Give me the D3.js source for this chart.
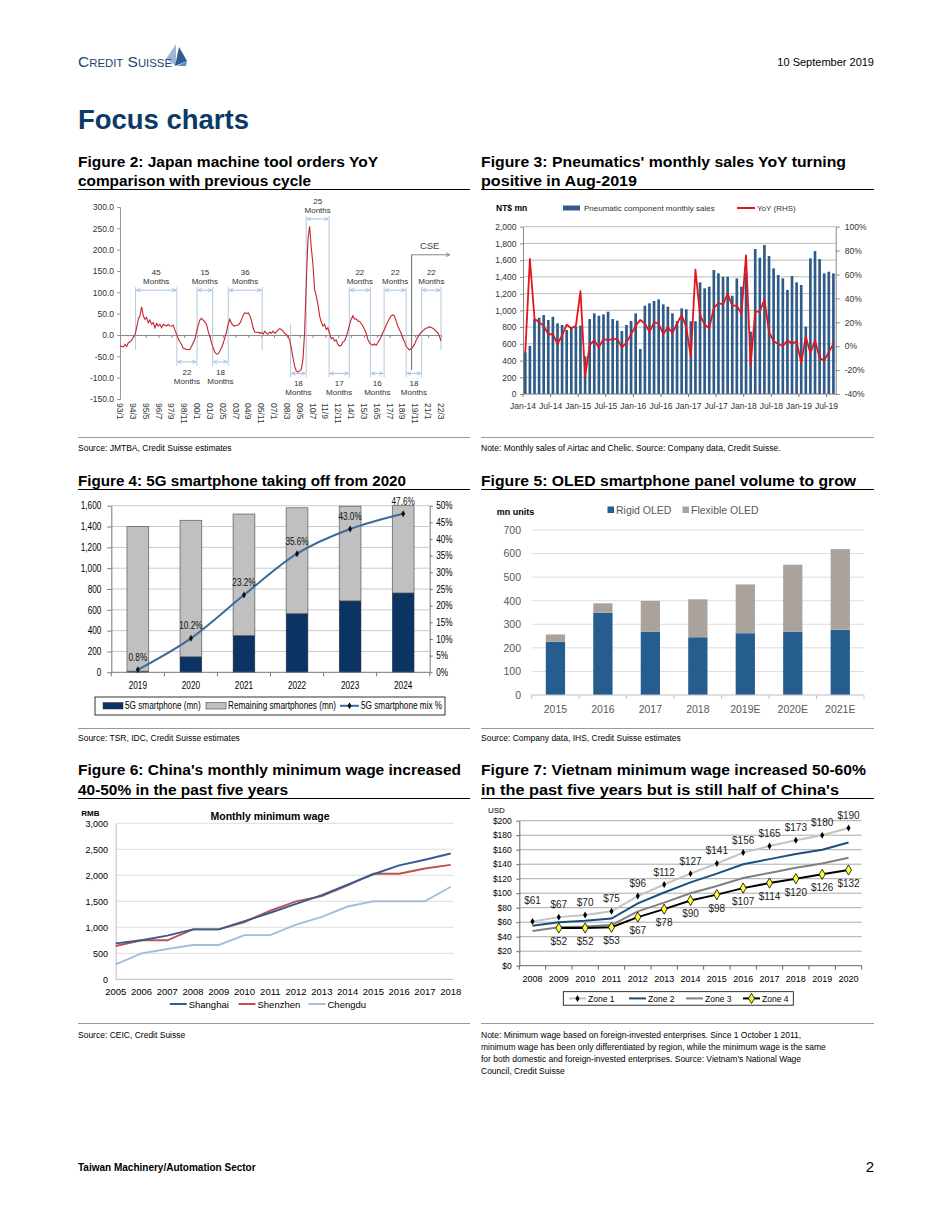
<!DOCTYPE html>
<html>
<head>
<meta charset="utf-8">
<script src="https://cdn.jsdelivr.net/npm/d3@7"></script>
<style>
  body { margin: 0; background: #fff; }
  svg { display: block; }
  text { font-family: "Liberation Sans", Arial, sans-serif; }
</style>
</head>
<body>
<svg id="page" width="950" height="1230"></svg>
<script>
// ---------------- data ----------------

// Figure 2: Japan machine tool orders YoY (%), sampled at even steps from 93/1 to 22/3
var f2Ticks = ["93/1","94/3","95/5","96/7","97/9","98/11","00/1","01/3","02/5","03/7","04/9","05/11",
  "07/1","08/3","09/5","10/7","11/9","12/11","14/1","15/3","16/5","17/7","18/9","19/11","21/1","22/3"];
var f2Orders = [
  -26, -27, -28, -22, -27, -18, -16, -12, -6, 0,
  17, 37, 45, 66, 45, 37, 41, 29, 35, 25,
  29, 17, 27, 21, 25, 17, 25, 23, 21, 25,
  21, 21, 23, 12, 2, -9, -16, -22, -31, -32,
  -34, -34, -34, -27, -18, -10, 6, 23, 35, 39,
  35, 31, 25, 9, -4, -18, -30, -40, -45, -44,
  -38, -30, -20, -7, 7, 25, 37, 27, 23, 21,
  23, 23, 27, 35, 46, 52, 50, 52, 46, 35,
  17, 7, 6, 7, 4, 6, 2, 9, 4, 2,
  7, 4, 9, 4, 7, 12, 15, 13, 9, 4,
  1, -2, -12, -30, -53, -73, -84, -87, -84, -80,
  -57, 6, 123, 224, 255, 205, 166, 107, 91, 72,
  45, 31, 21, 25, 13, 17, 4, -9, -6, -14,
  -12, -22, -26, -24, -16, -14, -4, 9, 23, 37,
  45, 37, 38, 33, 32, 27, 21, 13, 4, -10,
  -18, -22, -24, -21, -24, -18, -12, -4, 6, 13,
  23, 31, 38, 45, 47, 45, 33, 21, 13, 4,
  -7, -15, -26, -31, -35, -32, -29, -22, -13, -6,
  1, 6, 9, 13, 16, 17, 19, 18, 16, 13,
  9, 6, -2, -14
];
// cycles: [start month, end month (months after 93/1), length label, side]
var f2Cycles = [
  [17, 62, "45", "up"], [62, 84, "22", "down"], [84, 101, "15", "up"], [101, 118, "18", "down"],
  [118, 155, "36", "up"], [186, 203, "18", "down"], [203, 228, "25", "up"], [228, 250, "17", "down"],
  [250, 273, "22", "up"], [273, 288, "16", "down"], [288, 312, "22", "up"], [312, 329, "18", "down"],
  [329, 350, "22", "up"]
];
var f2Cse = 318;

// Figure 3: pneumatic component monthly sales (NT$ mn) and YoY (%), Jan-14 .. Aug-19
var f3Ticks = ["Jan-14","Jul-14","Jan-15","Jul-15","Jan-16","Jul-16","Jan-17","Jul-17","Jan-18","Jul-18","Jan-19","Jul-19"];
var f3Sales = [
  500, 575, 895, 912, 944, 885, 924, 845, 825, 765, 793, 805,
  817, 450, 896, 964, 936, 952, 984, 896, 877, 753, 825, 873,
  964, 538, 1056, 1084, 1112, 1131, 1072, 1044, 964, 873, 1024, 1012,
  870, 870, 1335, 1263, 1283, 1482, 1442, 1402, 1402, 1175, 1382, 1283,
  1450, 745, 1733, 1629, 1781, 1649, 1502, 1422, 1382, 1243, 1410, 1335,
  1303, 805, 1621, 1709, 1613, 1442, 1462, 1442
];
var f3Yoy = [
  -5, 73, 23, 20, 17, 10, 10, 2, 9, 18, 15, 17,
  46, -25, 1, 5, -1, 6, 5, 6, 6, -1, 3, 10,
  17, 22, 19, 12, 20, 19, 10, 16, 11, 19, 26, 16,
  -9, 64, 26, 18, 15, 32, 36, 35, 44, 34, 34, 27,
  76, -16, 29, 29, 39, 12, 4, 2, 0, 5, 2, 4,
  -14, 8, -6, 5, -10, -12, -5, 2
];

// Figure 4: 5G smartphones
var f4Years = ["2019", "2020", "2021", "2022", "2023", "2024"];
var f4FiveG = [11, 149, 353, 563, 686, 762];
var f4Remaining = [1389, 1311, 1167, 1017, 909, 838];
var f4Mix = [0.8, 10.2, 23.2, 35.6, 43.0, 47.6];

// Figure 5: OLED smartphone panels (mn units)
var f5Years = ["2015", "2016", "2017", "2018", "2019E", "2020E", "2021E"];
var f5Rigid = [226, 349, 269, 245, 262, 269, 277];
var f5Flexible = [31, 40, 130, 161, 207, 284, 342];

// Figure 6: China monthly minimum wage (RMB)
var f6Years = [2005, 2006, 2007, 2008, 2009, 2010, 2011, 2012, 2013, 2014, 2015, 2016, 2017, 2018];
var f6Shanghai = [690, 750, 840, 960, 960, 1120, 1280, 1450, 1620, 1820, 2020, 2190, 2300, 2420];
var f6Shenzhen = [640, 750, 750, 960, 960, 1100, 1320, 1500, 1600, 1808, 2030, 2030, 2130, 2200];
var f6Chengdu = [288, 500, 583, 660, 660, 850, 850, 1050, 1200, 1400, 1500, 1500, 1500, 1780];

// Figure 7: Vietnam minimum wage (USD)
var f7Years = ["2008","2009","2010","2011","2012","2013","2014","2015","2016","2017","2018","2019","2020"];
var f7Zone1 = [61, 67, 70, 75, 96, 112, 127, 141, 156, 165, 173, 180, 190];
var f7Zone2 = [55, 60, 62, 65, 86, 101, 115, 127, 140, 147, 154, 160, 170];
var f7Zone3 = [48, 53, 54, 56, 75, 87, 100, 110, 121, 128, 135, 141, 149];
var f7Zone4 = [null, 52, 52, 53, 67, 78, 90, 98, 107, 114, 120, 126, 132];

// ---------------- helpers ----------------
var svg = d3.select("#page");
var defs = svg.append("defs");

function write(parent, x, y, s, size, o) {
  o = o || {};
  var t = parent.append("text").attr("x", x).attr("y", y).attr("font-size", size)
    .attr("fill", o.fill || "#000").text(s);
  if (o.weight) t.attr("font-weight", o.weight);
  if (o.anchor) t.attr("text-anchor", o.anchor);
  if (o.family) t.attr("font-family", o.family);
  if (o.len) t.attr("textLength", o.len).attr("lengthAdjust", "spacingAndGlyphs");
  return t;
}

function styleAxis(g, size, family, color, lineColor) {
  g.attr("font-size", size).attr("font-family", family);
  g.selectAll("text").attr("fill", color);
  g.selectAll("line").attr("stroke", lineColor);
  g.select(".domain").attr("stroke", lineColor);
}

// squeeze text horizontally (stand-in for an Arial Narrow look)
function condense(sel, f) {
  sel.each(function () {
    var w = this.getComputedTextLength();
    d3.select(this).attr("textLength", w * f).attr("lengthAdjust", "spacingAndGlyphs");
  });
}

function arrowMarker(id, color) {
  defs.append("marker").attr("id", id).attr("viewBox", "0 0 10 10")
    .attr("refX", 9).attr("refY", 5).attr("markerWidth", 6).attr("markerHeight", 6)
    .attr("orient", "auto-start-reverse")
    .append("path").attr("d", "M1,1L9,5L1,9").attr("fill", "none")
    .attr("stroke", color).attr("stroke-width", 1.4);
}
arrowMarker("arrBlue", "#8fb0d6");
arrowMarker("arrGray", "#666");

var SANS = '"Liberation Sans", Arial, sans-serif';

// ---------------- page furniture ----------------
svg.append("polygon").attr("points", "166,59 176,44 176,66").attr("fill", "#9fb6d3");
svg.append("polygon").attr("points", "175,66 179,47 187,61").attr("fill", "#2d5b94");
svg.append("polygon").attr("points", "177,66 187,61 186,66").attr("fill", "#6a8dbb");
write(svg, 78, 67, "Credit Suisse", 15, { family: '"Liberation Serif", serif', fill: "#1d3f73", len: 94 })
  .style("font-variant", "small-caps");
write(svg, 874, 66, "10 September 2019", 11, { anchor: "end" });
write(svg, 78, 129, "Focus charts", 27, { weight: "bold", fill: "#0b3a68", len: 171 });

var titles = [
  [78, 167, "Figure 2: Japan machine tool orders YoY", 300],
  [78, 186, "comparison with previous cycle", 233],
  [481, 167, "Figure 3: Pneumatics' monthly sales YoY turning", 365],
  [481, 186, "positive in Aug-2019", 156],
  [78, 486, "Figure 4: 5G smartphone taking off from 2020", 328],
  [481, 486, "Figure 5: OLED smartphone panel volume to grow", 375],
  [78, 775, "Figure 6: China's monthly minimum wage increased", 383],
  [78, 795, "40-50% in the past five years", 210],
  [481, 775, "Figure 7: Vietnam minimum wage increased 50-60%", 385],
  [481, 795, "in the past five years but is still half of China's", 358]
];
titles.forEach(function (t) { write(svg, t[0], t[1], t[2], 14.5, { weight: "bold", len: t[3] }); });

[189.5, 489.5, 798.5].forEach(function (y) {
  svg.append("line").attr("x1", 78).attr("x2", 470).attr("y1", y).attr("y2", y).attr("stroke", "#000");
  svg.append("line").attr("x1", 481).attr("x2", 874).attr("y1", y).attr("y2", y).attr("stroke", "#000");
});
[437.5, 728.5, 1023.5].forEach(function (y) {
  svg.append("line").attr("x1", 78).attr("x2", 470).attr("y1", y).attr("y2", y).attr("stroke", "#7f7f7f").attr("stroke-width", 0.8);
  svg.append("line").attr("x1", 481).attr("x2", 874).attr("y1", y).attr("y2", y).attr("stroke", "#7f7f7f").attr("stroke-width", 0.8);
});
write(svg, 78, 451, "Source: JMTBA, Credit Suisse estimates", 8.5);
write(svg, 481, 451, "Note: Monthly sales of Airtac and Chelic. Source: Company data, Credit Suisse.", 8.5);
write(svg, 78, 741, "Source: TSR, IDC, Credit Suisse estimates", 8.5);
write(svg, 481, 741, "Source: Company data, IHS, Credit Suisse estimates", 8.5);
write(svg, 78, 1038, "Source: CEIC, Credit Suisse", 8.5);
["Note: Minimum wage based on foreign-invested enterprises. Since 1 October 1 2011,",
 "minimum wage has been only differentiated by region, while the minimum wage is the same",
 "for both domestic and foreign-invested enterprises. Source: Vietnam's National Wage",
 "Council, Credit Suisse"].forEach(function (s, i) { write(svg, 481, 1038 + i * 12, s, 8.5); });
write(svg, 78, 1171, "Taiwan Machinery/Automation Sector", 10, { weight: "bold" });
write(svg, 874, 1172, "2", 15, { anchor: "end" });

// ---------------- Figure 2 ----------------
(function () {
  var g = svg.append("g");
  var n = f2Orders.length;
  var monthOf = function (i) { return i * 350 / (n - 1); };
  var x = d3.scaleLinear().domain([0, 350]).range([120, 441]);
  var y = d3.scaleLinear().domain([-150, 300]).range([399, 207]);

  var ya = g.append("g").attr("transform", "translate(120,0)")
    .call(d3.axisLeft(y).tickValues(d3.range(-150, 301, 50)).tickFormat(function (d) { return d.toFixed(1); })
      .tickSize(3).tickPadding(3));
  styleAxis(ya, 8.5, SANS, "#333", "#9a9a9a");

  var tickMonths = f2Ticks.map(function (d, i) { return i * 14; });
  var xa = g.append("g").attr("transform", "translate(0," + y(0) + ")")
    .call(d3.axisBottom(x).tickValues(tickMonths).tickFormat("").tickSize(3).tickSizeOuter(0));
  styleAxis(xa, 8, SANS, "#333", "#8a8a8a");
  g.selectAll(".f2lab").data(f2Ticks).enter().append("text")
    .attr("transform", function (d, i) { return "translate(" + x(tickMonths[i]) + ",403) rotate(90)"; })
    .attr("dy", "0.35em").attr("font-size", 8.5).attr("fill", "#333").text(function (d) { return d; });

  // cycle brackets
  function level(c) {
    if (c[3] === "up") {
      var peak = d3.max(f2Orders.filter(function (d, i) { return monthOf(i) >= c[0] && monthOf(i) <= c[1]; }));
      return peak > 150 ? 272 : 105;
    }
    return c[0] < 150 ? -63 : -90;
  }
  var bounds = Array.from(new Set(f2Cycles.flatMap(function (c) { return [c[0], c[1]]; })));
  bounds.forEach(function (b) {
    var adj = f2Cycles.filter(function (c) { return c[0] === b || c[1] === b; });
    var ups = adj.filter(function (c) { return c[3] === "up"; });
    var downs = adj.filter(function (c) { return c[3] === "down"; });
    var top = ups.length ? d3.min(ups, function (c) { return y(level(c)); }) - 3 : y(25);
    var bot = downs.length ? d3.max(downs, function (c) { return y(level(c)); }) + 4 : y(-35);
    g.append("line").attr("x1", x(b)).attr("x2", x(b)).attr("y1", top).attr("y2", bot)
      .attr("stroke", "#a9c2df").attr("stroke-width", 0.9);
  });
  f2Cycles.forEach(function (c) {
    var ya2 = y(level(c));
    g.append("line").attr("x1", x(c[0]) + 1).attr("x2", x(c[1]) - 1).attr("y1", ya2).attr("y2", ya2)
      .attr("stroke", "#8fb0d6").attr("stroke-width", 0.8)
      .attr("marker-start", "url(#arrBlue)").attr("marker-end", "url(#arrBlue)");
    var mid = (x(c[0]) + x(c[1])) / 2;
    var up = c[3] === "up";
    write(g, mid, ya2 + (up ? -15 : 13), c[2], 8, { anchor: "middle", fill: "#333" });
    write(g, mid, ya2 + (up ? -6 : 22), "Months", 8, { anchor: "middle", fill: "#333" });
  });

  // CSE marker
  g.append("line").attr("x1", x(f2Cse)).attr("x2", x(f2Cse)).attr("y1", y(188)).attr("y2", y(-82))
    .attr("stroke", "#555").attr("stroke-width", 0.9);
  g.append("line").attr("x1", x(f2Cse)).attr("x2", x(f2Cse) + 38).attr("y1", y(188)).attr("y2", y(188))
    .attr("stroke", "#666").attr("stroke-width", 0.8).attr("marker-end", "url(#arrGray)");
  write(g, x(f2Cse) + 18, y(188) - 6, "CSE", 9.5, { anchor: "middle", fill: "#444" });

  g.append("path").datum(f2Orders)
    .attr("d", d3.line().x(function (d, i) { return x(monthOf(i)); }).y(function (d) { return y(d); }))
    .attr("fill", "none").attr("stroke", "#c3262c").attr("stroke-width", 1.1);
})();

// ---------------- Figure 3 ----------------
(function () {
  var g = svg.append("g");
  var x = d3.scaleBand().domain(d3.range(f3Sales.length)).range([523, 835.7]).paddingInner(0.42).paddingOuter(0.21);
  var y = d3.scaleLinear().domain([0, 2000]).range([394, 226.7]);
  var yr = d3.scaleLinear().domain([-40, 100]).range([394, 226.7]);
  var edge = function (i) { return x(i) - x.step() * x.paddingInner() / 2; };

  g.selectAll(".grid").data(d3.range(200, 2001, 200)).enter().append("line")
    .attr("x1", 523).attr("x2", 835.7).attr("y1", function (d) { return y(d); }).attr("y2", function (d) { return y(d); })
    .attr("stroke", "#a8a8a8").attr("stroke-width", 0.8);

  var la = g.append("g").attr("transform", "translate(523,0)")
    .call(d3.axisLeft(y).tickValues(d3.range(0, 2001, 200)).tickFormat(d3.format(",")).tickSize(3).tickPadding(3.5).tickSizeOuter(0));
  styleAxis(la, 8.5, SANS, "#333", "#888");
  var ra = g.append("g").attr("transform", "translate(835.7,0)")
    .call(d3.axisRight(yr).tickValues(d3.range(-40, 101, 20)).tickFormat(function (d) { return d + "%"; })
      .tickSize(4).tickPadding(5).tickSizeOuter(0));
  styleAxis(ra, 8.5, SANS, "#333", "#888");

  g.selectAll(".bar").data(f3Sales).enter().append("rect")
    .attr("x", function (d, i) { return x(i); }).attr("width", x.bandwidth())
    .attr("y", function (d) { return y(d); }).attr("height", function (d) { return y(0) - y(d); })
    .attr("fill", "#2f5b88");

  g.append("line").attr("x1", 523).attr("x2", 835.7).attr("y1", y(0)).attr("y2", y(0)).attr("stroke", "#777");
  f3Ticks.forEach(function (t, k) {
    var xx = edge(k * 6);
    g.append("line").attr("x1", xx).attr("x2", xx).attr("y1", y(0)).attr("y2", y(0) + 3).attr("stroke", "#777");
    write(g, xx, 408.5, t, 8.5, { anchor: "middle", fill: "#333" });
  });

  g.append("path").datum(f3Yoy)
    .attr("d", d3.line().x(function (d, i) { return x(i) + x.bandwidth() / 2; }).y(function (d) { return yr(d); }))
    .attr("fill", "none").attr("stroke", "#e3161d").attr("stroke-width", 1.8).attr("stroke-linejoin", "round");

  write(g, 496, 211, "NT$ mn", 8.5, { weight: "bold" });
  g.append("rect").attr("x", 563).attr("y", 205.5).attr("width", 17).attr("height", 5).attr("fill", "#2f5b88");
  write(g, 584, 211, "Pneumatic component monthly sales", 8, { fill: "#333" });
  g.append("line").attr("x1", 737).attr("x2", 755).attr("y1", 208).attr("y2", 208).attr("stroke", "#e3161d").attr("stroke-width", 2);
  write(g, 757, 211, "YoY (RHS)", 8, { fill: "#333" });
})();

// ---------------- Figure 4 ----------------
(function () {
  var g = svg.append("g");
  var x = d3.scaleBand().domain(f4Years).range([111.3, 429.7]).paddingInner(0.59).paddingOuter(0.295);
  var y = d3.scaleLinear().domain([0, 1600]).range([672.3, 505.7]);
  var yr = d3.scaleLinear().domain([0, 50]).range([672.3, 505.7]);

  g.selectAll(".grid").data(d3.range(200, 1601, 200)).enter().append("line")
    .attr("x1", 111.3).attr("x2", 429.7).attr("y1", function (d) { return y(d); }).attr("y2", function (d) { return y(d); })
    .attr("stroke", "#bdbdbd").attr("stroke-width", 0.8);

  var la = g.append("g").attr("transform", "translate(111.3,0)")
    .call(d3.axisLeft(y).tickValues(d3.range(0, 1601, 200)).tickFormat(d3.format(",")).tickSize(4).tickPadding(6).tickSizeOuter(0));
  styleAxis(la, 10, SANS, "#000", "#777");
  var ra = g.append("g").attr("transform", "translate(429.7,0)")
    .call(d3.axisRight(yr).tickValues(d3.range(0, 51, 5)).tickFormat(function (d) { return d + "%"; })
      .tickSize(3).tickPadding(3.5).tickSizeOuter(0));
  styleAxis(ra, 10, SANS, "#000", "#777");

  f4Years.forEach(function (yr4, i) {
    g.append("rect").attr("x", x(yr4)).attr("width", x.bandwidth())
      .attr("y", y(f4FiveG[i])).attr("height", y(0) - y(f4FiveG[i]))
      .attr("fill", "#0b3465").attr("stroke", "#333").attr("stroke-width", 0.5);
    g.append("rect").attr("x", x(yr4)).attr("width", x.bandwidth())
      .attr("y", y(f4FiveG[i] + f4Remaining[i])).attr("height", y(0) - y(f4Remaining[i]))
      .attr("fill", "#c0c0c0").attr("stroke", "#5a5a5a").attr("stroke-width", 0.7);
  });

  g.append("line").attr("x1", 111.3).attr("x2", 429.7).attr("y1", y(0)).attr("y2", y(0)).attr("stroke", "#777");
  d3.range(f4Years.length + 1).forEach(function (k) {
    var xx = 111.3 + k * x.step();
    g.append("line").attr("x1", xx).attr("x2", xx).attr("y1", y(0)).attr("y2", y(0) + 4).attr("stroke", "#777");
  });
  f4Years.forEach(function (d) {
    write(g, x(d) + x.bandwidth() / 2, 689, d, 10, { anchor: "middle" });
  });

  var cx = function (i) { return x(f4Years[i]) + x.bandwidth() / 2; };
  g.append("path").datum(f4Mix)
    .attr("d", d3.line().x(function (d, i) { return cx(i); }).y(function (d) { return yr(d); }).curve(d3.curveMonotoneX))
    .attr("fill", "none").attr("stroke", "#3b6b9a").attr("stroke-width", 2);
  f4Mix.forEach(function (d, i) {
    g.append("path").attr("d", d3.symbol(d3.symbolDiamond, 14)())
      .attr("transform", "translate(" + cx(i) + "," + yr(d) + ")").attr("fill", "#111");
    write(g, cx(i), yr(d) - 9, d.toFixed(1) + "%", 10, { anchor: "middle", fill: "#111" });
  });

  g.append("rect").attr("x", 95).attr("y", 697).attr("width", 350).attr("height", 18)
    .attr("fill", "none").attr("stroke", "#000").attr("stroke-width", 0.8);
  g.append("rect").attr("x", 103).attr("y", 702.5).attr("width", 20).attr("height", 6.5).attr("fill", "#0b3465").attr("stroke", "#333").attr("stroke-width", 0.5);
  write(g, 125, 709, "5G smartphone (mn)", 10);
  g.append("rect").attr("x", 206).attr("y", 702.5).attr("width", 20).attr("height", 6.5).attr("fill", "#c0c0c0").attr("stroke", "#5a5a5a").attr("stroke-width", 0.7);
  write(g, 228, 709, "Remaining smartphones (mn)", 10);
  g.append("line").attr("x1", 340).attr("x2", 359).attr("y1", 705.8).attr("y2", 705.8).attr("stroke", "#3b6b9a").attr("stroke-width", 2);
  g.append("path").attr("d", d3.symbol(d3.symbolDiamond, 14)()).attr("transform", "translate(349.5,705.8)").attr("fill", "#111");
  write(g, 361, 709, "5G smartphone mix %", 10);

  condense(g.selectAll("text"), 0.82);
})();

// ---------------- Figure 5 ----------------
(function () {
  var g = svg.append("g");
  var OS = '"Open Sans", "Liberation Sans", sans-serif';
  var x = d3.scaleBand().domain(f5Years).range([531.7, 864]).paddingInner(0.594).paddingOuter(0.297);
  var y = d3.scaleLinear().domain([0, 700]).range([695, 530]);

  g.selectAll(".grid").data(d3.range(100, 701, 100)).enter().append("line")
    .attr("x1", 531.7).attr("x2", 864).attr("y1", function (d) { return y(d); }).attr("y2", function (d) { return y(d); })
    .attr("stroke", "#d9d9d9").attr("stroke-width", 0.9);
  var la = g.append("g").attr("transform", "translate(531.7,0)")
    .call(d3.axisLeft(y).tickValues(d3.range(0, 701, 100)).tickSize(0).tickPadding(10.7));
  la.select(".domain").remove();
  styleAxis(la, 10.5, OS, "#595959", "#bfbfbf");

  f5Years.forEach(function (d, i) {
    g.append("rect").attr("x", x(d)).attr("width", x.bandwidth())
      .attr("y", y(f5Rigid[i])).attr("height", y(0) - y(f5Rigid[i])).attr("fill", "#265d8f");
    g.append("rect").attr("x", x(d)).attr("width", x.bandwidth())
      .attr("y", y(f5Rigid[i] + f5Flexible[i])).attr("height", y(0) - y(f5Flexible[i])).attr("fill", "#a9a29d");
    write(g, x(d) + x.bandwidth() / 2, 713, d, 10.5, { anchor: "middle", family: OS, fill: "#595959" });
  });
  g.append("line").attr("x1", 531.7).attr("x2", 864).attr("y1", y(0)).attr("y2", y(0)).attr("stroke", "#bfbfbf");
  d3.range(f5Years.length + 1).forEach(function (k) {
    var xx = 531.7 + k * x.step();
    g.append("line").attr("x1", xx).attr("x2", xx).attr("y1", y(0)).attr("y2", y(0) + 4).attr("stroke", "#bfbfbf");
  });

  write(g, 496.7, 515, "mn units", 9, { weight: "bold" });
  g.append("rect").attr("x", 607.5).attr("y", 506.5).attr("width", 6.5).attr("height", 6.5).attr("fill", "#265d8f");
  write(g, 616, 513.5, "Rigid OLED", 10.5, { family: OS, fill: "#595959" });
  g.append("rect").attr("x", 682.5).attr("y", 506.5).attr("width", 6.5).attr("height", 6.5).attr("fill", "#a9a29d");
  write(g, 691, 513.5, "Flexible OLED", 10.5, { family: OS, fill: "#595959" });
})();

// ---------------- Figure 6 ----------------
(function () {
  var g = svg.append("g");
  var LT = 'Lato, "Liberation Sans", sans-serif';
  var x = d3.scaleLinear().domain([2005, 2018]).range([115.7, 450.7]);
  var y = d3.scaleLinear().domain([0, 3000]).range([979.3, 823.3]);

  g.selectAll(".grid").data(d3.range(500, 3001, 500)).enter().append("line")
    .attr("x1", 115.7).attr("x2", 453.7).attr("y1", function (d) { return y(d); }).attr("y2", function (d) { return y(d); })
    .attr("stroke", "#d9d9d9").attr("stroke-width", 0.9);
  var la = g.append("g").attr("transform", "translate(115.7,0)")
    .call(d3.axisLeft(y).tickValues(d3.range(0, 3001, 500)).tickFormat(d3.format(",")).tickSize(0).tickPadding(7.7));
  styleAxis(la, 9, LT, "#000", "#bfbfbf");
  g.append("line").attr("x1", 115.7).attr("x2", 453.7).attr("y1", y(0)).attr("y2", y(0)).attr("stroke", "#bfbfbf");
  f6Years.forEach(function (d) { write(g, x(d), 995, String(d), 9.5, { anchor: "middle", family: LT }); });

  var series = [[f6Shanghai, "#335c92", "Shanghai"], [f6Shenzhen, "#c0504d", "Shenzhen"], [f6Chengdu, "#a7bcdb", "Chengdu"]];
  var line = d3.line().x(function (d, i) { return x(f6Years[i]); }).y(function (d) { return y(d); });
  series.slice().reverse().forEach(function (s) {
    g.append("path").datum(s[0]).attr("d", line).attr("fill", "none").attr("stroke", s[1]).attr("stroke-width", 1.9);
  });
  var legX = [169.7, 238.5, 308.5];
  series.forEach(function (s, i) {
    g.append("line").attr("x1", legX[i]).attr("x2", legX[i] + 17).attr("y1", 1004).attr("y2", 1004).attr("stroke", s[1]).attr("stroke-width", 2);
    write(g, legX[i] + 19, 1007.5, s[2], 9.5, { family: LT });
  });
  write(g, 81.3, 816, "RMB", 8, { weight: "bold", family: LT });
  write(g, 270, 820, "Monthly minimum wage", 10.5, { weight: "bold", family: LT, anchor: "middle" });
})();

// ---------------- Figure 7 ----------------
(function () {
  var g = svg.append("g");
  var x = d3.scaleBand().domain(f7Years).range([519.3, 861.7]);
  var y = d3.scaleLinear().domain([0, 200]).range([965.7, 820.7]);
  var cx = function (i) { return x(f7Years[i]) + x.bandwidth() / 2; };

  g.selectAll(".grid").data(d3.range(20, 201, 20)).enter().append("line")
    .attr("x1", 519.3).attr("x2", 861.7).attr("y1", function (d) { return y(d); }).attr("y2", function (d) { return y(d); })
    .attr("stroke", "#ababab").attr("stroke-width", 1);
  var la = g.append("g").attr("transform", "translate(519.3,0)")
    .call(d3.axisLeft(y).tickValues(d3.range(0, 201, 20)).tickFormat(function (d) { return "$" + d; })
      .tickSize(3).tickPadding(4.5).tickSizeOuter(0));
  styleAxis(la, 8.5, SANS, "#000", "#666");
  g.append("line").attr("x1", 519.3).attr("x2", 861.7).attr("y1", y(0)).attr("y2", y(0)).attr("stroke", "#666");
  d3.range(f7Years.length + 1).forEach(function (k) {
    var xx = 519.3 + k * x.step();
    g.append("line").attr("x1", xx).attr("x2", xx).attr("y1", y(0)).attr("y2", y(0) + 4).attr("stroke", "#666");
  });
  f7Years.forEach(function (d, i) { write(g, cx(i), 982, d, 9, { anchor: "middle" }); });
  write(g, 488, 813, "USD", 8);

  var line = d3.line().defined(function (d) { return d !== null; })
    .x(function (d, i) { return cx(i); }).y(function (d) { return y(d); });
  var series = [[f7Zone3, "#808080"], [f7Zone2, "#1c4f7d"], [f7Zone1, "#c3c3c3"], [f7Zone4, "#000"]];
  series.forEach(function (s) {
    g.append("path").datum(s[0]).attr("d", line).attr("fill", "none").attr("stroke", s[1]).attr("stroke-width", 2);
  });
  f7Zone1.forEach(function (d, i) {
    g.append("path").attr("d", d3.symbol(d3.symbolDiamond, 14)()).attr("transform", "translate(" + cx(i) + "," + y(d) + ")").attr("fill", "#000");
    write(g, cx(i), y(d) - (i === 0 ? 17 : 9), "$" + d, 10, { anchor: "middle", fill: "#222" });
  });
  f7Zone4.forEach(function (d, i) {
    if (d === null) return;
    g.append("path").attr("d", d3.symbol(d3.symbolDiamond, 30)()).attr("transform", "translate(" + cx(i) + "," + y(d) + ")")
      .attr("fill", "#ffff33").attr("stroke", "#000").attr("stroke-width", 0.8);
    write(g, cx(i), y(d) + 17, "$" + d, 10, { anchor: "middle", fill: "#222" });
  });

  g.append("rect").attr("x", 563.3).attr("y", 991.7).attr("width", 230).attr("height", 13.5)
    .attr("fill", "none").attr("stroke", "#000").attr("stroke-width", 0.8);
  var leg = [["Zone 1", "#c3c3c3", 569], ["Zone 2", "#1c4f7d", 629], ["Zone 3", "#808080", 686], ["Zone 4", "#000", 743]];
  leg.forEach(function (l, i) {
    g.append("line").attr("x1", l[2]).attr("x2", l[2] + 17).attr("y1", 998.4).attr("y2", 998.4).attr("stroke", l[1]).attr("stroke-width", 2);
    if (i === 0) g.append("path").attr("d", d3.symbol(d3.symbolDiamond, 14)()).attr("transform", "translate(" + (l[2] + 8.5) + ",998.4)").attr("fill", "#000");
    if (i === 3) g.append("path").attr("d", d3.symbol(d3.symbolDiamond, 30)()).attr("transform", "translate(" + (l[2] + 8.5) + ",998.4)")
      .attr("fill", "#ffff33").attr("stroke", "#000").attr("stroke-width", 0.8);
    write(g, l[2] + 19, 1001.5, l[0], 8.5);
  });
})();
</script>
</body>
</html>
